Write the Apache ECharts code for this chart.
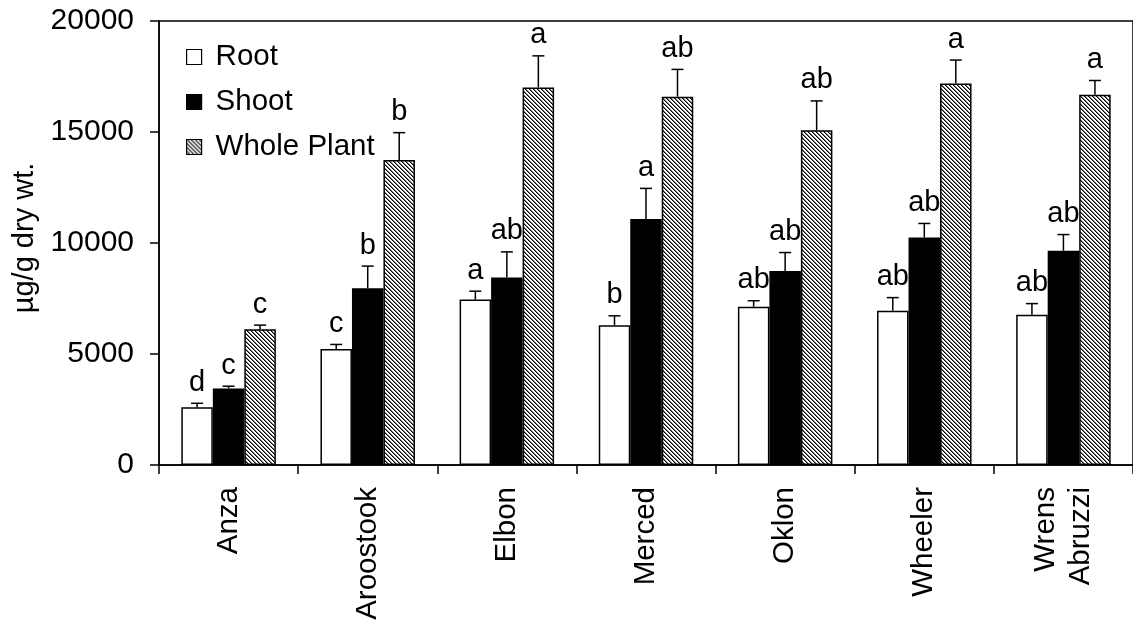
<!DOCTYPE html>
<html>
<head>
<meta charset="utf-8">
<script src="https://cdn.jsdelivr.net/npm/echarts@6/dist/echarts.min.js"></script>
<style>html,body{margin:0;padding:0;background:#fff}#c{width:1133px;height:623px}</style>
</head>
<body>
<div id="c"></div>
<script>
const categories = ['Anza', 'Aroostook', 'Elbon', 'Merced', 'Oklon', 'Wheeler', 'Wrens\nAbruzzi'];
const seriesNames = ['Root', 'Shoot', 'Whole Plant'];
const root = [2600, 5220, 7450, 6300, 7130, 6950, 6770];
const rootErr = [180, 210, 380, 420, 270, 590, 500];
const rootLetters = ['d', 'c', 'a', 'b', 'ab', 'ab', 'ab'];
const shoot = [3450, 7960, 8450, 11080, 8740, 10250, 9650];
const shootErr = [100, 1000, 1150, 1380, 830, 630, 730];
const shootLetters = ['c', 'b', 'ab', 'a', 'ab', 'ab', 'ab'];
const whole = [6110, 13740, 17010, 16590, 15080, 17190, 16680];
const wholeErr = [190, 1230, 1420, 1230, 1320, 1050, 640];
const wholeLetters = ['c', 'b', 'a', 'ab', 'ab', 'a', 'a'];
const yTicks = { min: 0, max: 20000, interval: 5000 };

const FONT = "'Liberation Sans', Arial, sans-serif";
const BAR_W = 31.5;

// hatch pattern (backslash diagonal lines)
const pc = document.createElement('canvas');
pc.width = 4; pc.height = 4;
const px = pc.getContext('2d');
px.fillStyle = '#fff'; px.fillRect(0, 0, 4, 4);
for (let i = 0; i < 4; i++) {
  px.fillStyle = '#000'; px.fillRect(i, i, 1, 1);
  px.fillStyle = '#777'; px.fillRect((i + 1) % 4, i, 1, 1);
}
const hatch = { image: pc, repeat: 'repeat' };

const fills = ['#ffffff', '#000000', hatch];
const values = [root, shoot, whole];
const errs = [rootErr, shootErr, wholeErr];
const letters = [rootLetters, shootLetters, wholeLetters];

const series = [];
seriesNames.forEach((name, s) => {
  series.push({
    name: name,
    type: 'bar',
    barWidth: BAR_W,
    barGap: '0%',
    data: values[s],
    itemStyle: { color: fills[s], borderColor: '#000', borderWidth: 1.5 },
    emphasis: { disabled: true },
    z: 2
  });
});
seriesNames.forEach((name, s) => {
  series.push({
    type: 'custom',
    name: name + ' err',
    data: values[s].map((v, i) => [i, v, errs[s][i], letters[s][i]]),
    encode: { x: 0, y: 1 },
    z: 3,
    silent: true,
    renderItem: function (params, api) {
      const i = api.value(0);
      const v = api.value(1);
      const e = api.value(2);
      const cx = api.coord([i, 0])[0] + (s - 1) * BAR_W;
      const yTop = api.coord([i, v])[1];
      const yCap = api.coord([i, v + e])[1];
      const txt = letters[s][params.dataIndex];
      return {
        type: 'group',
        children: [
          { type: 'line', shape: { x1: cx, y1: yTop, x2: cx, y2: yCap }, style: { stroke: '#000', lineWidth: 1.5 } },
          { type: 'line', shape: { x1: cx - 6, y1: yCap, x2: cx + 6, y2: yCap }, style: { stroke: '#000', lineWidth: 1.5 } },
          { type: 'text', style: { text: txt, x: cx, y: yCap - 6, align: 'center', verticalAlign: 'bottom', font: '29px ' + FONT, fill: '#000' } }
        ]
      };
    }
  });
});

const chart = echarts.init(document.getElementById('c'), null, { renderer: 'canvas' });
chart.setOption({
  animation: false,
  backgroundColor: '#fff',
  grid: { left: 159, top: 21, right: -8, bottom: 158, show: true, borderColor: '#000', borderWidth: 1.5, backgroundColor: 'transparent' },
  legend: {
    data: seriesNames,
    orient: 'vertical',
    left: 186,
    top: 42,
    padding: 0,
    icon: 'rect',
    itemWidth: 15,
    itemHeight: 15,
    itemGap: 15,
    textStyle: { fontFamily: FONT, fontSize: 29.5, color: '#000', lineHeight: 29, padding: [0, 0, 0, 9] },
    itemStyle: { borderColor: '#000', borderWidth: 1.2 },
    selectedMode: false
  },
  xAxis: {
    type: 'category',
    data: categories,
    axisLine: { lineStyle: { color: '#000', width: 1.5 } },
    axisTick: { show: true, length: 9, lineStyle: { color: '#000', width: 1.5 } },
    axisLabel: { rotate: 90, margin: 22, fontFamily: FONT, fontSize: 29.5, color: '#000', lineHeight: 35, interval: 0 }
  },
  yAxis: {
    type: 'value',
    min: yTicks.min,
    max: yTicks.max,
    interval: yTicks.interval,
    name: 'µg/g dry wt.',
    nameLocation: 'middle',
    nameRotate: 90,
    nameGap: 120,
    nameTextStyle: { fontFamily: FONT, fontSize: 29, color: '#000', padding: [0, 0, 0, 10] },
    axisLine: { show: true, lineStyle: { color: '#000', width: 1.5 } },
    axisTick: { show: true, length: 9, lineStyle: { color: '#000', width: 1.5 } },
    axisLabel: { margin: 25, fontFamily: FONT, fontSize: 30, color: '#000', formatter: function (v) { return String(v); } },
    splitLine: { show: false }
  },
  series: series
});
</script>
</body>
</html>
